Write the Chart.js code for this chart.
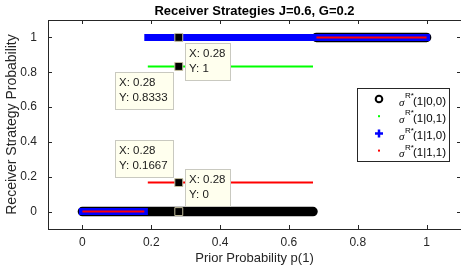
<!DOCTYPE html>
<html>
<head>
<meta charset="utf-8">
<script src="https://cdn.jsdelivr.net/npm/chart.js@4"></script>
<style>
  html, body { margin: 0; padding: 0; background: #fff; }
  #wrap { width: 461px; height: 271px; }
</style>
</head>
<body>
<div id="wrap"><canvas id="chart"></canvas></div>
<script>
// ---- values ----
const xTicks = [0, 0.2, 0.4, 0.6, 0.8, 1];
const yTicks = [0, 0.2, 0.4, 0.6, 0.8, 1];
const xTickLabels = ['0', '0.2', '0.4', '0.6', '0.8', '1'];
const yTickLabels = ['0', '0.2', '0.4', '0.6', '0.8', '1'];

// segment ends along p(1); null y = break between segments
const s00X = [0, 0.67, 0.675, 0.68, 1];
const s00Y = [0, 0, null, 1, 1];
const s01X = [0.19, 0.67];
const s01Y = [0.8333, 0.8333];
const s10X = [0, 0.18, 0.185, 0.19, 1];
const s10Y = [0, 0, null, 1, 1];
const s11X = [0, 0.18, 0.185, 0.19, 0.67, 0.675, 0.68, 1];
const s11Y = [0, 0, null, 0.1667, 0.1667, null, 1, 1];

const seriesNames = ['(1|0,0)', '(1|0,1)', '(1|1,0)', '(1|1,1)'];

// data tips
const tipX = [0.28, 0.28, 0.28, 0.28];
const tipY = [1, 0.8333, 0.1667, 0];
const tipLabels = ['1', '0.8333', '0.1667', '0'];

const AXIS = '#262626';
const FONT = '"Liberation Sans", Arial, sans-serif';

function zip(xs, ys) {
  return xs.map((x, i) => ({ x: x, y: ys[i] }));
}

// title, axis box with inward ticks, data tips, legend
const matlabLook = {
  id: 'matlabLook',
  afterDraw(chart) {
    const ctx = chart.ctx;
    const a = chart.chartArea;
    const xs = chart.scales.x, ys = chart.scales.y;
    ctx.save();

    // title
    ctx.fillStyle = '#000';
    ctx.font = 'bold 13px ' + FONT;
    ctx.textAlign = 'center';
    ctx.textBaseline = 'middle';
    ctx.fillText('Receiver Strategies J=0.6, G=0.2', (a.left + a.right) / 2, 11);

    // box + ticks
    ctx.strokeStyle = AXIS;
    ctx.lineWidth = 1;
    ctx.strokeRect(Math.round(a.left) + 0.5, Math.round(a.top) + 0.5,
      Math.round(a.right - a.left), Math.round(a.bottom - a.top));
    ctx.beginPath();
    xTicks.forEach(v => {
      const px = Math.round(xs.getPixelForValue(v)) + 0.5;
      ctx.moveTo(px, a.bottom); ctx.lineTo(px, a.bottom - 4);
      ctx.moveTo(px, a.top); ctx.lineTo(px, a.top + 4);
    });
    yTicks.forEach(v => {
      const py = Math.round(ys.getPixelForValue(v)) + 0.5;
      ctx.moveTo(a.left, py); ctx.lineTo(a.left + 4, py);
      ctx.moveTo(a.right - 1, py); ctx.lineTo(a.right - 4, py);
    });
    ctx.stroke();

    // data tip boxes
    const place = [[1, 1], [-1, 1], [-1, -1], [1, -1]];
    ctx.font = '11.5px ' + FONT;
    ctx.textAlign = 'left';
    tipX.forEach((tx, i) => {
      const px = xs.getPixelForValue(tx);
      const py = ys.getPixelForValue(tipY[i]);
      const l1 = 'X: ' + tx, l2 = 'Y: ' + tipLabels[i];
      const w = Math.round(Math.max(ctx.measureText(l1).width, ctx.measureText(l2).width) + 9);
      const h = 37;
      const bx = Math.round(place[i][0] > 0 ? px + 6 : px - 6 - w);
      const by = Math.round(place[i][1] > 0 ? py + 6 : py - 6 - h);
      ctx.fillStyle = '#ffffee';
      ctx.fillRect(bx, by, w, h);
      ctx.strokeStyle = '#c9c9c0';
      ctx.strokeRect(bx + 0.5, by + 0.5, w, h);
      ctx.fillStyle = '#1a1a1a';
      ctx.fillText(l1, bx + 4, by + 11);
      ctx.fillText(l2, bx + 4, by + 26);
    });

    // legend
    const lx = 357, ly = 88, lw = 92, lh = 73;
    ctx.fillStyle = '#fff';
    ctx.fillRect(lx, ly, lw, lh);
    ctx.strokeStyle = AXIS;
    ctx.strokeRect(lx + 0.5, ly + 0.5, lw, lh);
    const mx = 379;
    seriesNames.forEach((name, i) => {
      const ry = 99 + i * 17.2;
      if (i === 0) {
        ctx.strokeStyle = '#000'; ctx.lineWidth = 2;
        ctx.beginPath(); ctx.arc(mx, ry, 3.3, 0, Math.PI * 2); ctx.stroke();
      } else if (i === 1) {
        ctx.fillStyle = '#00ff00'; ctx.fillRect(mx - 1, ry - 1, 2, 2);
      } else if (i === 2) {
        ctx.strokeStyle = '#0000ff'; ctx.lineWidth = 2.5;
        ctx.beginPath();
        ctx.moveTo(mx - 4, ry); ctx.lineTo(mx + 4, ry);
        ctx.moveTo(mx, ry - 4); ctx.lineTo(mx, ry + 4);
        ctx.stroke();
      } else {
        ctx.fillStyle = '#ff0000'; ctx.fillRect(mx - 1, ry - 1, 2, 2);
      }
      ctx.lineWidth = 1;
      ctx.fillStyle = '#000';
      ctx.textBaseline = 'middle';
      ctx.font = 'italic 11px "Liberation Serif", serif';
      ctx.fillText('\u03c3', 399, ry + 4);
      ctx.font = '8px ' + FONT;
      ctx.fillText('R*', 405, ry - 3);
      ctx.font = '11.5px ' + FONT;
      ctx.fillText(name, 413, ry + 2.5);
    });

    ctx.restore();
  }
};

new Chart(document.getElementById('chart'), {
  type: 'line',
  data: {
    datasets: [
      {
        label: 'tips',
        data: zip(tipX, tipY),
        showLine: false,
        pointStyle: 'rect',
        pointRadius: 5.6,
        pointBackgroundColor: '#000',
        pointBorderColor: '#c4bf9f',
        pointBorderWidth: 1,
        order: 1
      },
      {
        label: seriesNames[3],
        data: zip(s11X, s11Y),
        borderColor: '#ff0000',
        borderWidth: 2,
        pointRadius: 0,
        spanGaps: false,
        order: 2
      },
      {
        label: seriesNames[2],
        data: zip(s10X, s10Y),
        borderColor: '#0000ff',
        borderWidth: 7,
        borderCapStyle: 'square',
        pointRadius: 0,
        spanGaps: false,
        order: 3
      },
      {
        label: seriesNames[1],
        data: zip(s01X, s01Y),
        borderColor: '#00ff00',
        borderWidth: 2,
        pointRadius: 0,
        order: 4
      },
      {
        label: seriesNames[0],
        data: zip(s00X, s00Y),
        borderColor: '#000000',
        borderWidth: 9.5,
        borderCapStyle: 'round',
        pointRadius: 0,
        spanGaps: false,
        order: 5
      }
    ]
  },
  plugins: [matlabLook],
  options: {
    responsive: true,
    maintainAspectRatio: false,
    animation: false,
    events: [],
    layout: { autoPadding: false, padding: { left: 0, right: 0, top: 20, bottom: 0 } },
    plugins: {
      legend: { display: false },
      title: { display: false },
      tooltip: { enabled: false }
    },
    scales: {
      x: {
        type: 'linear',
        min: -0.1,
        max: 1.1,
        border: { display: false },
        grid: { display: false, drawTicks: false },
        afterBuildTicks: s => { s.ticks = xTicks.map(v => ({ value: v })); },
        afterFit: s => { s.height = 42; s.paddingLeft = 0; s.paddingRight = 0; },
        ticks: {
          color: AXIS,
          padding: 6,
          maxRotation: 0,
          font: { family: FONT, size: 12 },
          callback: v => xTickLabels[xTicks.indexOf(v)]
        },
        title: {
          display: true,
          text: 'Prior Probability p(1)',
          color: AXIS,
          font: { family: FONT, size: 13 },
          padding: { top: 0, bottom: 5 }
        }
      },
      y: {
        type: 'linear',
        min: -0.1,
        max: 1.1,
        border: { display: false },
        grid: { display: false, drawTicks: false },
        afterBuildTicks: s => { s.ticks = yTicks.map(v => ({ value: v })); },
        afterFit: s => { s.width = 48; s.paddingTop = 0; s.paddingBottom = 0; },
        ticks: {
          color: AXIS,
          padding: 11,
          font: { family: FONT, size: 12 },
          callback: v => yTickLabels[yTicks.indexOf(v)]
        },
        title: {
          display: true,
          text: 'Receiver Strategy Probability',
          color: AXIS,
          font: { family: FONT, size: 14 },
          padding: { top: 4, bottom: 0 }
        }
      }
    }
  }
});
</script>
</body>
</html>
